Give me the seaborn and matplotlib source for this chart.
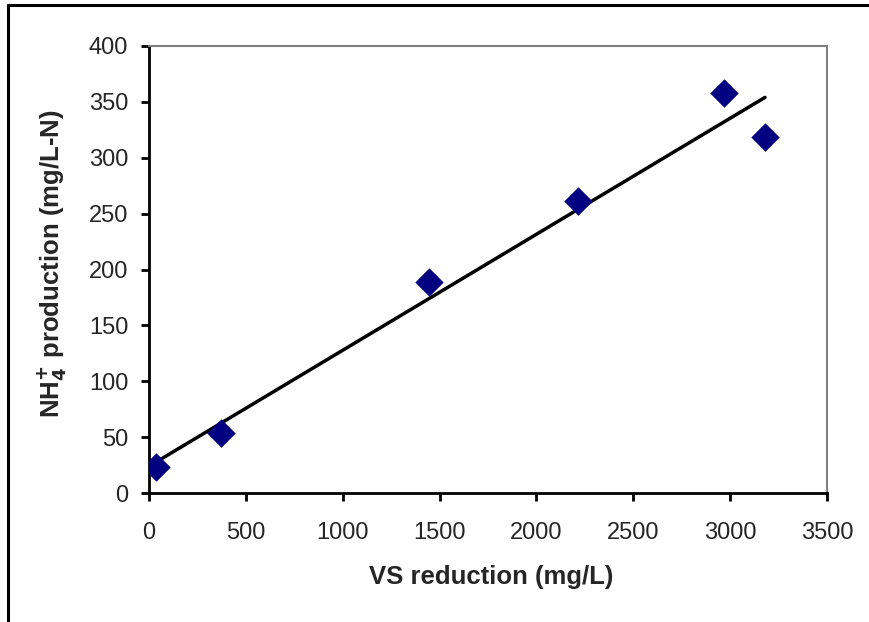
import numpy as np
import pandas as pd
import matplotlib
matplotlib.use("Agg")
import matplotlib.pyplot as plt
from matplotlib.lines import Line2D
import seaborn as sns

vs_reduction = [36, 372, 1445, 2215, 2968, 3180]
nh4_production = [23, 54, 189, 261, 358, 319]
x_ticks = [0, 500, 1000, 1500, 2000, 2500, 3000, 3500]
y_ticks = [0, 50, 100, 150, 200, 250, 300, 350, 400]

sns.set_theme(style="white")
plt.rcParams['font.family'] = ['Liberation Sans', 'DejaVu Sans']

df = pd.DataFrame({"x": vs_reduction, "y": nh4_production})

fig = plt.figure(figsize=(8.7, 6.22), dpi=100)
ax = fig.add_axes([149/870, 1 - 493/622, (827-149)/870, (493-46)/622])

# trendline (linear fit)
slope, intercept = np.polyfit(df["x"], df["y"], 1)
xl = np.array([min(vs_reduction), max(vs_reduction)])
sns.lineplot(x=xl, y=slope*xl + intercept, ax=ax, color="black", linewidth=2.5, zorder=2)

sns.scatterplot(data=df, x="x", y="y", ax=ax, marker="D", s=210, color="#000080",
                edgecolor="#000080", linewidth=0, zorder=3)

ax.set_xlim(0, 3500)
ax.set_ylim(0, 400)
ax.set_xticks(x_ticks)
ax.set_yticks(y_ticks)
ax.set_xticklabels([str(t) for t in x_ticks], fontsize=17)
ax.set_yticklabels([str(t) for t in y_ticks], fontsize=17)
ax.tick_params(axis='x', direction='out', length=6, width=2, color='black', pad=15, bottom=True)
ax.tick_params(axis='y', direction='out', length=6, width=2, color='black', pad=9, left=True)

for s in ['left', 'bottom']:
    ax.spines[s].set_color('black')
    ax.spines[s].set_linewidth(2)
for s in ['top', 'right']:
    ax.spines[s].set_color('#808080')
    ax.spines[s].set_linewidth(1.5)

ax.set_xlabel("VS reduction (mg/L)", fontsize=18.5, fontweight='bold')
ax.set_ylabel(r"NH$_\mathbf{4}^\mathbf{+}$ production (mg/L-N)", fontsize=18.5, fontweight='bold')
ax.xaxis.set_label_coords(0.505, -(577 - 493) / 447, transform=ax.transAxes)
ax.yaxis.set_label_coords(-(149 - 52) / 678, (493 - 264) / 447, transform=ax.transAxes)
ax.xaxis.label.set_va('center')
ax.yaxis.label.set_va('center')
ax.grid(False)

# outer chart border (left and top visible)
fig.add_artist(Line2D([8.5/870, 8.5/870], [0, 1 - 5/622], transform=fig.transFigure, color='black', linewidth=2.2))
fig.add_artist(Line2D([8.5/870, 1], [1 - 5/622, 1 - 5/622], transform=fig.transFigure, color='black', linewidth=2.2))

fig.savefig("out.png", dpi=100)
